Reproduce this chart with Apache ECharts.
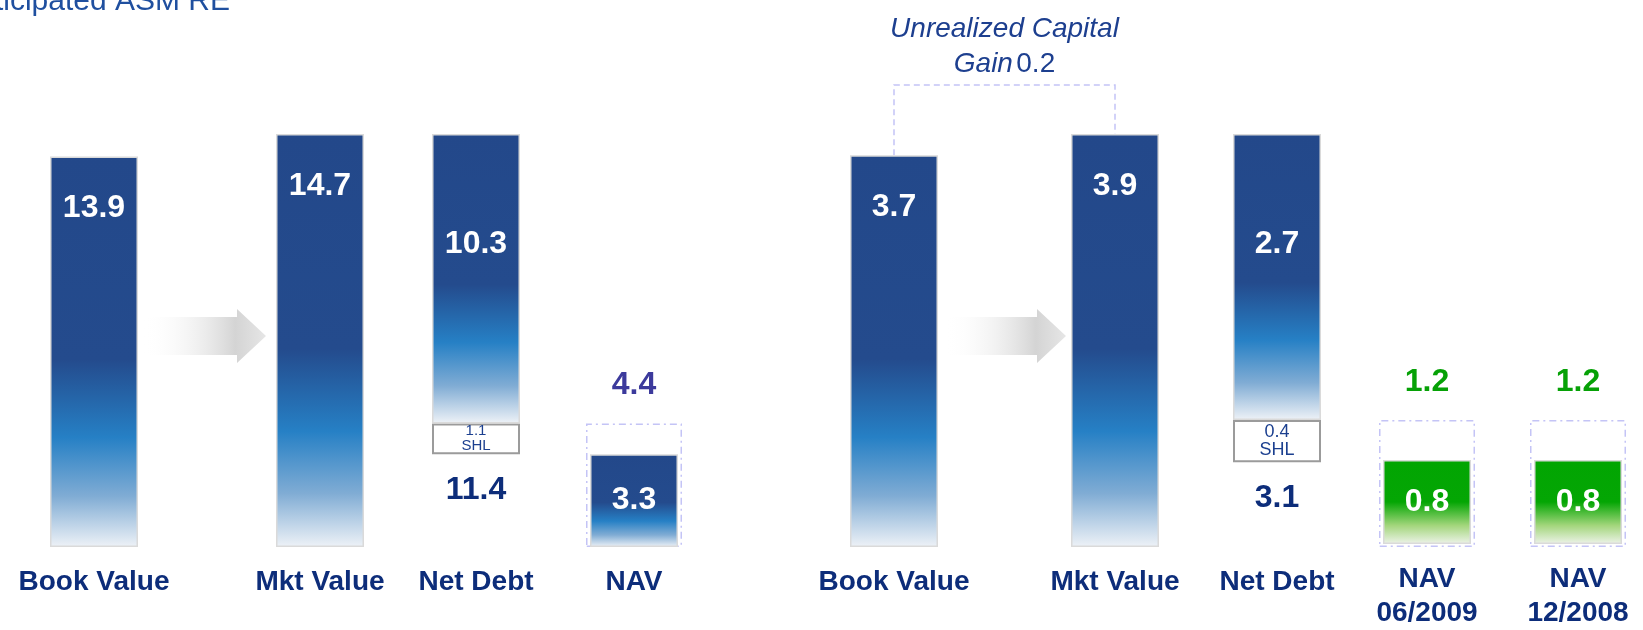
<!DOCTYPE html>
<html>
<head>
<meta charset="utf-8">
<script src="https://cdn.jsdelivr.net/npm/echarts@6/dist/echarts.min.js"></script>
<style>
html, body { margin: 0; padding: 0; background: #fff; }
#main { width: 1643px; height: 630px; }
</style>
</head>
<body>
<div id="main"></div>
<script>
// values
const leftCategories = ['Book Value', 'Mkt Value', 'Net Debt', 'NAV'];
const leftAssets = [13.9, 14.7];      // book value, market value
const leftDebt = [10.3, 1.1];         // net debt, SHL
const leftNav = [3.3];
const leftNavTotal = [4.4];

const rightCategories = ['Book Value', 'Mkt Value', 'Net Debt', 'NAV\n06/2009', 'NAV\n12/2008'];
const rightAssets = [3.7, 3.9];
const rightDebt = [2.7, 0.4];
const rightNav = [0.8, 0.8];
const rightNavTotal = [1.2, 1.2];
const capitalGain = 0.2;

// layout (pixels)
const leftCenters = [94, 320, 476, 634];
const rightCenters = [894, 1115, 1277, 1427, 1578];
const BAR_W = 88, BOX_W = 96, TOP = 134, BOTTOM = 83;

const NAVY = '#0d2d7a';
const FONT = 'Liberation Sans, Arial, sans-serif';

const blueFill = new echarts.graphic.LinearGradient(0, 0, 0, 1, [
    { offset: 0, color: '#23488a' },
    { offset: 0.52, color: '#244b8d' },
    { offset: 0.72, color: '#2680c5' },
    { offset: 0.87, color: '#80acd4' },
    { offset: 1, color: '#eef2f7' }
]);
const greenFill = new echarts.graphic.LinearGradient(0, 0, 0, 1, [
    { offset: 0, color: '#02a502' },
    { offset: 0.5, color: '#04a604' },
    { offset: 0.78, color: '#a3d67c' },
    { offset: 1, color: '#eef3ea' }
]);

const grids = [], xAxes = [], yAxes = [], series = [];

function addColumn(center, width, label, max) {
    const i = grids.length;
    grids.push({ left: center - width / 2, width: width, top: TOP, bottom: BOTTOM });
    xAxes.push({
        type: 'category', gridIndex: i, data: [label || ''],
        axisLine: { show: false }, axisTick: { show: false },
        axisLabel: {
            show: !!label, interval: 0, margin: 18,
            color: NAVY, fontSize: 28, fontWeight: 'bold', lineHeight: 34, fontFamily: FONT
        }
    });
    yAxes.push({ type: 'value', gridIndex: i, min: 0, max: max, show: false });
    return i;
}

function valueLabel(pos, dist, color) {
    return {
        show: true, position: pos, distance: dist, color: color,
        fontSize: 32, fontWeight: 'bold', fontFamily: FONT,
        formatter: p => Number(p.value).toFixed(1)
    };
}

function plainBar(center, label, value, max) {
    const i = addColumn(center, BAR_W, label, max);
    series.push({
        type: 'bar', xAxisIndex: i, yAxisIndex: i, barWidth: BAR_W, data: [value],
        itemStyle: { color: blueFill, borderColor: '#dadada', borderWidth: 1.5 },
        label: valueLabel('insideTop', 36, '#fff')
    });
    return i;
}

function debtColumn(center, label, mkt, debt, loan, max, shlFont) {
    const i = addColumn(center, BAR_W, label, max);
    const stack = 'debt' + i;
    // transparent base, carries the total net debt label below the SHL box
    series.push({
        type: 'bar', xAxisIndex: i, yAxisIndex: i, barWidth: BAR_W, stack: stack,
        data: [mkt - debt - loan], silent: true,
        itemStyle: { color: 'rgba(0,0,0,0)' },
        label: {
            show: true, position: 'insideTop', distance: 20, color: NAVY,
            fontSize: 32, fontWeight: 'bold', fontFamily: FONT,
            formatter: (debt + loan).toFixed(1)
        }
    });
    series.push({
        type: 'bar', xAxisIndex: i, yAxisIndex: i, barWidth: BAR_W, stack: stack, data: [loan],
        itemStyle: { color: '#fff', borderColor: '#9b9b9b', borderWidth: 2 },
        label: {
            show: true, position: 'inside', color: '#1b3f8f', fontFamily: FONT,
            fontSize: shlFont, lineHeight: shlFont,
            formatter: loan.toFixed(1) + '\nSHL'
        }
    });
    series.push({
        type: 'bar', xAxisIndex: i, yAxisIndex: i, barWidth: BAR_W, stack: stack, data: [debt],
        itemStyle: { color: blueFill, borderColor: '#dadada', borderWidth: 1.5 },
        label: valueLabel('insideTop', 94, '#fff')
    });
}

function navColumn(center, label, nav, total, max, fill, totalColor) {
    const d = addColumn(center, BOX_W, '', max);
    series.push({
        type: 'bar', xAxisIndex: d, yAxisIndex: d, barWidth: BOX_W, data: [total], silent: true,
        itemStyle: { color: 'rgba(0,0,0,0)', borderColor: '#c4c4f6', borderWidth: 1.5, borderType: [7, 4, 2, 4] },
        label: valueLabel('top', 22, totalColor)
    });
    const i = addColumn(center, BAR_W, label, max);
    series.push({
        type: 'bar', xAxisIndex: i, yAxisIndex: i, barWidth: BAR_W, data: [nav],
        itemStyle: { color: fill, borderColor: '#dadada', borderWidth: 1.5 },
        label: valueLabel('inside', 0, '#fff')
    });
}

// left panel
const leftMax = leftAssets[1];
plainBar(leftCenters[0], leftCategories[0], leftAssets[0], leftMax);
plainBar(leftCenters[1], leftCategories[1], leftAssets[1], leftMax);
debtColumn(leftCenters[2], leftCategories[2], leftAssets[1], leftDebt[0], leftDebt[1], leftMax, 15);
navColumn(leftCenters[3], leftCategories[3], leftNav[0], leftNavTotal[0], leftMax, blueFill, '#3c3a9c');

// right panel
const rightMax = rightAssets[1];
const rBook = plainBar(rightCenters[0], rightCategories[0], rightAssets[0], rightMax);
const rMkt = plainBar(rightCenters[1], rightCategories[1], rightAssets[1], rightMax);
debtColumn(rightCenters[2], rightCategories[2], rightAssets[1], rightDebt[0], rightDebt[1], rightMax, 18);
navColumn(rightCenters[3], rightCategories[3], rightNav[0], rightNavTotal[0], rightMax, greenFill, '#06a106');
navColumn(rightCenters[4], rightCategories[4], rightNav[1], rightNavTotal[1], rightMax, greenFill, '#06a106');

const chart = echarts.init(document.getElementById('main'));
chart.setOption({
    backgroundColor: '#fff',
    animation: false,
    textStyle: { fontFamily: FONT },
    grid: grids,
    xAxis: xAxes,
    yAxis: yAxes,
    series: series
});

// decorations: arrows, capital gain bracket, cut-off heading
function arrow(x0, tip) {
    const xh = tip - 29;
    return {
        type: 'polygon', silent: true,
        shape: { points: [[x0, 317], [xh, 317], [xh, 309], [tip, 336], [xh, 363], [xh, 355], [x0, 355]] },
        style: {
            fill: new echarts.graphic.LinearGradient(0, 0, 1, 0, [
                { offset: 0, color: 'rgba(255,255,255,0)' },
                { offset: 0.75, color: '#d4d4d4' },
                { offset: 1, color: '#e6e6e6' }
            ])
        }
    };
}

const pBook = chart.convertToPixel({ xAxisIndex: rBook, yAxisIndex: rBook }, [0, rightAssets[0]]);
const pMkt = chart.convertToPixel({ xAxisIndex: rMkt, yAxisIndex: rMkt }, [0, rightAssets[1]]);

chart.setOption({
    graphic: [
        arrow(leftCenters[0] + BAR_W / 2 + 5, leftCenters[1] - BAR_W / 2 - 10),
        arrow(rightCenters[0] + BAR_W / 2 + 7, rightCenters[1] - BAR_W / 2 - 5),
        {
            type: 'polyline', silent: true,
            shape: { points: [[pBook[0], pBook[1]], [pBook[0], 85], [pMkt[0], 85], [pMkt[0], pMkt[1]]] },
            style: { stroke: '#c4c4f6', lineWidth: 1.5, lineDash: [6, 4], fill: null }
        },
        {
            type: 'text', silent: true, x: (pBook[0] + pMkt[0]) / 2, y: 47,
            style: {
                text: '{i|Unrealized Capital}\n{i|Gain} {n|' + capitalGain.toFixed(1) + '}',
                align: 'center', verticalAlign: 'middle',
                rich: {
                    i: { fontStyle: 'italic', fontSize: 28, lineHeight: 35, fill: '#1d3f8f', fontFamily: FONT },
                    n: { fontSize: 28, lineHeight: 35, fill: '#1d3f8f', fontFamily: FONT }
                }
            }
        },
        {
            type: 'text', silent: true, x: 230, y: 17,
            style: {
                text: 'Anticipated ASM RE', align: 'right', verticalAlign: 'bottom',
                fontSize: 30, fill: '#1f4f9f', fontFamily: FONT
            }
        }
    ]
});
</script>
</body>
</html>
